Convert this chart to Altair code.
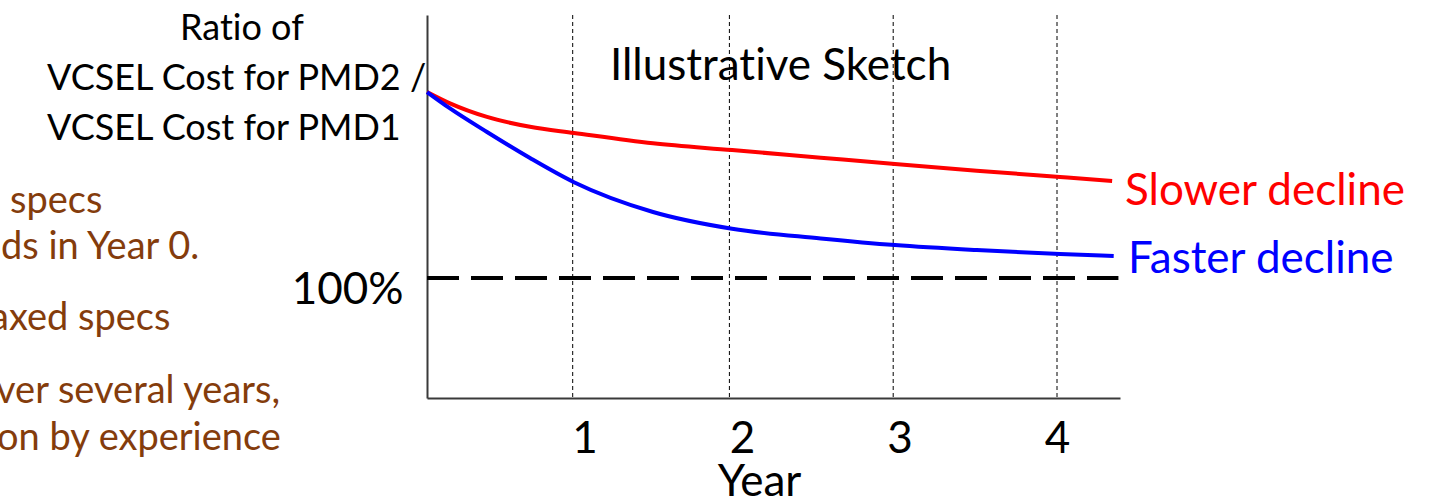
import altair as alt
import pandas as pd

# ---- data ----
series_names = ["Slower decline", "Faster decline"]
series_colors = ["#ff0000", "#0000ff"]
years_slow = [0, 0.146, 0.381, 0.654, 0.933, 1.435, 1.937, 2.5, 2.971, 3.49, 4.019, 4.35]
ratio_slow = [200, 193.9, 186.6, 181.3, 178.0, 172.4, 168.8, 164.7, 161.3, 157.7, 154.3, 152.2]
years_fast = [0, 0.146, 0.381, 0.654, 0.933, 1.435, 1.937, 2.5, 2.971, 3.49, 4.019, 4.36]
ratio_fast = [200, 191.2, 178.5, 164.5, 151.5, 135.5, 126.5, 121.3, 117.7, 115.0, 112.9, 111.8]
year_ticks = [1, 2, 3, 4]
grid_years = [0.925, 1.92, 2.96, 4.0]   # where the sketch's dotted year lines sit
reference_ratio = 100
reference_end_year = 4.39
y_title_lines = ["Ratio of", "VCSEL Cost for PMD2 /", "VCSEL Cost for PMD1"]
side_lines = ["specs", "ds in Year 0.", "axed specs", "ver several years,", "on by experience"]
sketch_note = "Illustrative Sketch"

FONT = "Lato"
BROWN = "#843c0c"
ZWNJ = "\u200c"  # keeps Lato from joining "ti" into a ligature


def no_lig(s):
    return s.replace("ti", "t" + ZWNJ + "i")


df = pd.DataFrame(
    {
        "year": years_slow + years_fast,
        "ratio": ratio_slow + ratio_fast,
        "series": [series_names[0]] * len(years_slow) + [series_names[1]] * len(years_fast),
    }
)

PLOT_W, PLOT_H = 693, 383
x_scale = alt.Scale(domain=[0, 4.4], nice=False, zero=False)
y_scale = alt.Scale(domain=[35.5, 241.4], nice=False, zero=False)

x_axis = alt.Axis(
    values=year_ticks,
    ticks=False,
    grid=False,
    domainColor="#3a3a3a",
    domainWidth=2,
    labelFont=FONT,
    labelFontSize=44,
    labelColor="#000000",
    labelPadding=19,
    labelBaseline="top",
    title="Year",
    titleFont=FONT,
    titleFontSize=44,
    titleFontWeight="normal",
    titleColor="#000000",
    titleBaseline="alphabetic",
    titleAlign="center",
    titleX=332,
    titleY=97,
)
y_axis = alt.Axis(
    values=[reference_ratio],
    ticks=False,
    grid=False,
    domainColor="#3a3a3a",
    domainWidth=2,
    labelFont=FONT,
    labelFontSize=44,
    labelColor="#000000",
    labelPadding=24,
    labelBaseline="alphabetic",
    labelOffset=25,
    labelExpr="datum.value + '%'",
    title="",
)

grid = (
    alt.Chart(pd.DataFrame({"gy": grid_years}))
    .mark_rule(color="#000000", strokeWidth=1, strokeDash=[4, 3])
    .encode(
        x=alt.X("gy:Q", scale=x_scale, axis=x_axis),
        y=alt.value(0),
        y2=alt.value(PLOT_H),
    )
)

lines = (
    alt.Chart(df)
    .mark_line(strokeWidth=4, interpolate="monotone")
    .encode(
        x=alt.X("year:Q", scale=x_scale, axis=x_axis),
        y=alt.Y("ratio:Q", scale=y_scale, axis=y_axis),
        color=alt.Color(
            "series:N",
            scale=alt.Scale(domain=series_names, range=series_colors),
            legend=None,
        ),
        detail="series:N",
    )
)

ref_rule = (
    alt.Chart(pd.DataFrame({"ratio": [reference_ratio], "start": [0], "end": [reference_end_year]}))
    .mark_rule(color="#000000", strokeWidth=4, strokeDash=[32, 12])
    .encode(
        x=alt.X("start:Q", scale=x_scale, axis=x_axis),
        x2="end:Q",
        y=alt.Y("ratio:Q", scale=y_scale, axis=y_axis),
    )
)


def label(text, x, y, size, color="#000000"):
    return alt.Chart(pd.DataFrame({"t": [no_lig(text)]})).mark_text(
        font=FONT,
        fontSize=size,
        color=color,
        align="left",
        baseline="alphabetic",
    ).encode(text="t:N", x=alt.value(x), y=alt.value(y))


texts = [
    label(y_title_lines[0], -247, 25, 36),
    label(y_title_lines[1], -380, 75, 36),
    label(y_title_lines[2], -380, 125, 36),
    label(sketch_note, 183, 65, 44),
    label(series_names[0], 698, 190, 44, series_colors[0]),
    label(series_names[1], 701, 258, 44, series_colors[1]),
    label(side_lines[0], -417, 198, 38, BROWN),
    label(side_lines[1], -426, 244, 38, BROWN),
    label(side_lines[2], -437, 315, 38, BROWN),
    label(side_lines[3], -431, 388, 38, BROWN),
    label(side_lines[4], -430, 435, 38, BROWN),
]

chart = (
    alt.layer(grid, ref_rule, lines, *texts)
    .properties(
        width=PLOT_W,
        height=PLOT_H,
        autosize=alt.AutoSizeParams(type="none"),
        padding={"left": 427, "top": 15, "right": 309, "bottom": 103},
        background="#ffffff",
    )
    .configure_view(stroke=None)
)

chart.save("out.html", embed_options={"renderer": "svg", "actions": False})
